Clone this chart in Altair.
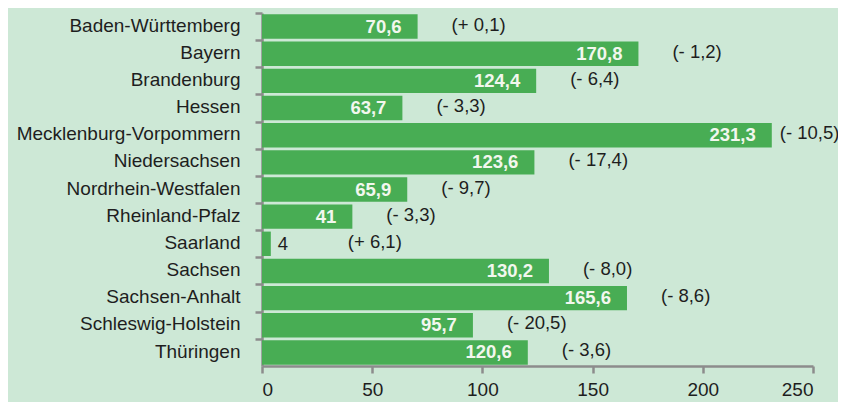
import altair as alt
import pandas as pd

states = ["Baden-Württemberg", "Bayern", "Brandenburg", "Hessen",
          "Mecklenburg-Vorpommern", "Niedersachsen", "Nordrhein-Westfalen",
          "Rheinland-Pfalz", "Saarland", "Sachsen", "Sachsen-Anhalt",
          "Schleswig-Holstein", "Thüringen"]
values = [70.6, 170.8, 124.4, 63.7, 231.3, 123.6, 65.9, 41, 4, 130.2, 165.6, 95.7, 120.6]
changes = ["(+ 0,1)", "(- 1,2)", "(- 6,4)", "(- 3,3)", "(- 10,5)", "(- 17,4)",
           "(- 9,7)", "(- 3,3)", "(+ 6,1)", "(- 8,0)", "(- 8,6)", "(- 20,5)", "(- 3,6)"]
x_ticks = [0, 50, 100, 150, 200, 250]


def fmt(v):
    if float(v).is_integer():
        return str(int(v))
    return str(v).replace(".", ",")


df = pd.DataFrame({
    "state": states,
    "value": values,
    "label": [fmt(v) for v in values],
    "change": changes,
})

FONT = "Liberation Sans, Arial, sans-serif"
BG = "#cde8d6"
BAR = "#48ad54"
AXIS = "#8c8c8c"
TXT = "#1e1e1e"

y_enc = alt.Y("state:N", sort=states, title=None,
              scale=alt.Scale(paddingInner=0.1, paddingOuter=0.05),
              axis=alt.Axis(domainColor=AXIS, domainWidth=2.5, tickColor=AXIS,
                            tickWidth=2.5, tickSize=7, tickOffset=-1.4,
                            bandPosition=0, labelFont=FONT, labelFontSize=19,
                            labelColor=TXT, labelPadding=15, labelLimit=400))
x_enc = alt.X("value:Q", title=None,
              scale=alt.Scale(domain=[0, 250], nice=False),
              axis=alt.Axis(values=x_ticks, grid=False, domainColor=AXIS,
                            domainWidth=2.5, tickColor=AXIS, tickWidth=2.5,
                            tickSize=7, labelFont=FONT, labelFontSize=19,
                            labelColor=TXT, labelPadding=7))

base = alt.Chart(df)
ysort = alt.Y("state:N", sort=states)

bars = base.mark_bar(color=BAR).encode(y=y_enc, x=x_enc)

inside = base.transform_filter("datum.value >= 20").mark_text(
    align="right", baseline="middle", dx=-16, font=FONT, fontSize=18.5,
    fontWeight="bold", color="#f2f7ee"
).encode(y=ysort, x="value:Q", text="label:N")

outside = base.transform_filter("datum.value < 20").mark_text(
    align="left", baseline="middle", dx=7, font=FONT, fontSize=18.5, color=TXT
).encode(y=ysort, x="value:Q", text="label:N")

chg_mid = base.transform_filter("datum.value >= 20 && datum.value < 200").mark_text(
    align="left", baseline="middle", dx=34, dy=-2, font=FONT, fontSize=18.5, color=TXT
).encode(y=ysort, x="value:Q", text="change:N")

chg_long = base.transform_filter("datum.value >= 200").mark_text(
    align="left", baseline="middle", dx=8, dy=-2, font=FONT, fontSize=18.5, color=TXT
).encode(y=ysort, x="value:Q", text="change:N")

chg_short = base.transform_filter("datum.value < 20").mark_text(
    align="left", baseline="middle", dx=77, dy=-2, font=FONT, fontSize=18.5, color=TXT
).encode(y=ysort, x="value:Q", text="change:N")

chart = alt.layer(bars, inside, outside, chg_mid, chg_long, chg_short).properties(
    width=551, height=353,
    autosize=alt.AutoSizeParams(type="none"),
    padding={"left": 254, "top": 5, "right": 25, "bottom": 36},
    background=BG,
).configure_view(stroke=None)

chart.save("out.html", embed_options={"renderer": "svg", "actions": False})
